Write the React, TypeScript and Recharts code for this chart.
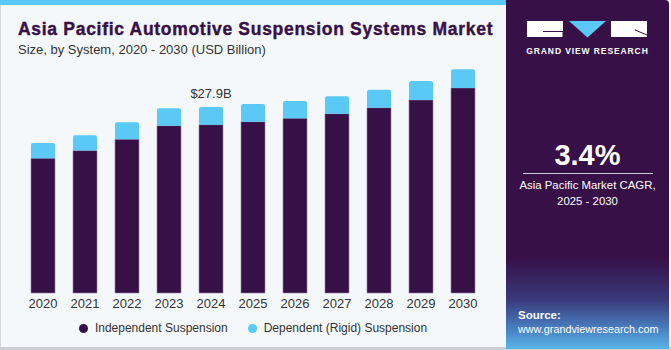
import React from "react";
import { BarChart, Bar, XAxis, YAxis, LabelList } from "recharts";

const years = ["2020", "2021", "2022", "2023", "2024", "2025", "2026", "2027", "2028", "2029", "2030"];
const independent = [20.2, 21.36, 23.06, 25.1, 25.25, 25.7, 26.2, 26.9, 27.8, 28.95, 30.75];
const dependent = [2.3, 2.3, 2.55, 2.6, 2.65, 2.65, 2.6, 2.6, 2.7, 2.85, 2.8];
const totalLabels = ["", "", "", "", "$27.9B", "", "", "", "", "", ""];
const seriesNames = ["Independent Suspension", "Dependent (Rigid) Suspension"];

const DARK = "#371047";
const LIGHT = "#5BC9F6";
const FONT = "'Liberation Sans', Arial, sans-serif";

const data = years.map((y, i) => ({
  year: y,
  independent: independent[i],
  dependent: dependent[i],
  label: totalLabels[i],
}));

export default function App() {
  return (
    <div
      style={{
        position: "fixed",
        left: 0,
        top: 0,
        width: 671,
        height: 350,
        background: "#F4F8FB",
        fontFamily: FONT,
        overflow: "hidden",
      }}
    >
      {/* card borders */}
      <div style={{ position: "absolute", left: 0, top: 0, width: 506, height: 5, background: LIGHT }} />
      <div style={{ position: "absolute", left: 0, top: 5, width: 1, height: 345, background: "#D5D9DD" }} />
      <div style={{ position: "absolute", left: 0, top: 347, width: 671, height: 3, background: "#CDD1D5" }} />

      <div style={{ position: "absolute", left: 18, top: 19, fontSize: 17.5, fontWeight: 700, color: "#371047", whiteSpace: "nowrap", letterSpacing: 0.7, WebkitTextStroke: "0.4px #371047" }}>
        Asia Pacific Automotive Suspension Systems Market
      </div>
      <div style={{ position: "absolute", left: 18, top: 42, fontSize: 13, color: "#333", whiteSpace: "nowrap" }}>
        Size, by System, 2020 - 2030 (USD Billion)
      </div>

      <div style={{ position: "absolute", left: 0, top: 0 }}>
        <BarChart
          width={506}
          height={320}
          data={data}
          margin={{ top: 53, right: 22, left: 22, bottom: 0 }}
          barSize={24}
        >
          <XAxis
            dataKey="year"
            axisLine={false}
            tickLine={false}
            tickSize={4}
            tickMargin={2}
            height={27}
            interval={0}
            tick={{ fill: "#333", fontSize: 13, fontFamily: FONT }}
          />
          <YAxis hide domain={[0, 36]} />
          <Bar dataKey="independent" stackId="a" fill={DARK} stroke="#8C7C98" strokeWidth={0.6} isAnimationActive={false} />
          <Bar dataKey="dependent" stackId="a" fill={LIGHT} radius={[2, 2, 0, 0]} isAnimationActive={false}>
            <LabelList dataKey="label" position="top" offset={9} fill="#333" fontSize={13} fontFamily={FONT} />
          </Bar>
        </BarChart>
      </div>

      {/* legend */}
      <div style={{ position: "absolute", left: 0, top: 321, width: 506, display: "flex", justifyContent: "center", alignItems: "center", fontSize: 12, color: "#333" }}>
        <div style={{ display: "flex", alignItems: "center", marginRight: 20 }}>
          <span style={{ width: 9, height: 9, borderRadius: "50%", background: DARK, display: "inline-block", marginRight: 7 }} />
          {seriesNames[0]}
        </div>
        <div style={{ display: "flex", alignItems: "center" }}>
          <span style={{ width: 9, height: 9, borderRadius: "50%", background: LIGHT, display: "inline-block", marginRight: 7 }} />
          {seriesNames[1]}
        </div>
      </div>

      {/* right panel */}
      <div
        style={{
          position: "absolute",
          left: 506,
          top: 0,
          width: 163,
          height: 349,
          borderTopRightRadius: 4,
          background: "linear-gradient(to bottom, #371047 0%, #371047 74%, #3a3a7c 86%, #4a86c6 95%, #5ab6e8 100%)",
          color: "#fff",
        }}
      >
        <svg width={163} height={60} style={{ position: "absolute", left: 0, top: 0 }}>
          <rect x={21} y={21} width={36} height={16} fill="#fff" />
          <path d="M37 31.5 H57 M57 31.5 V37" stroke="#371047" strokeWidth={1} fill="none" />
          <polygon points="63,21 100,21 81.5,37.5" fill={LIGHT} />
          <rect x={105} y={21} width={36} height={16} fill="#fff" />
          <path d="M129 30 L141 35" stroke="#371047" strokeWidth={1} fill="none" />
        </svg>
        <div style={{ position: "absolute", left: 0, top: 46, width: 163, textAlign: "center", fontSize: 8.5, fontWeight: 700, letterSpacing: 0.9 }}>
          GRAND VIEW RESEARCH
        </div>
        <div style={{ position: "absolute", left: 0, top: 139, width: 163, textAlign: "center", fontSize: 29, fontWeight: 700 }}>
          3.4%
        </div>
        <div style={{ position: "absolute", left: 17, top: 173, width: 130, height: 1, background: "#CFC6D6" }} />
        <div style={{ position: "absolute", left: 0, top: 178, width: 163, textAlign: "center", fontSize: 11.4, lineHeight: "15.5px" }}>
          Asia Pacific Market CAGR,
          <br />
          2025 - 2030
        </div>
        <div style={{ position: "absolute", left: 12, top: 309, fontSize: 11.5, fontWeight: 700 }}>Source:</div>
        <div style={{ position: "absolute", left: 12, top: 323, fontSize: 10.8 }}>www.grandviewresearch.com</div>
      </div>
    </div>
  );
}
